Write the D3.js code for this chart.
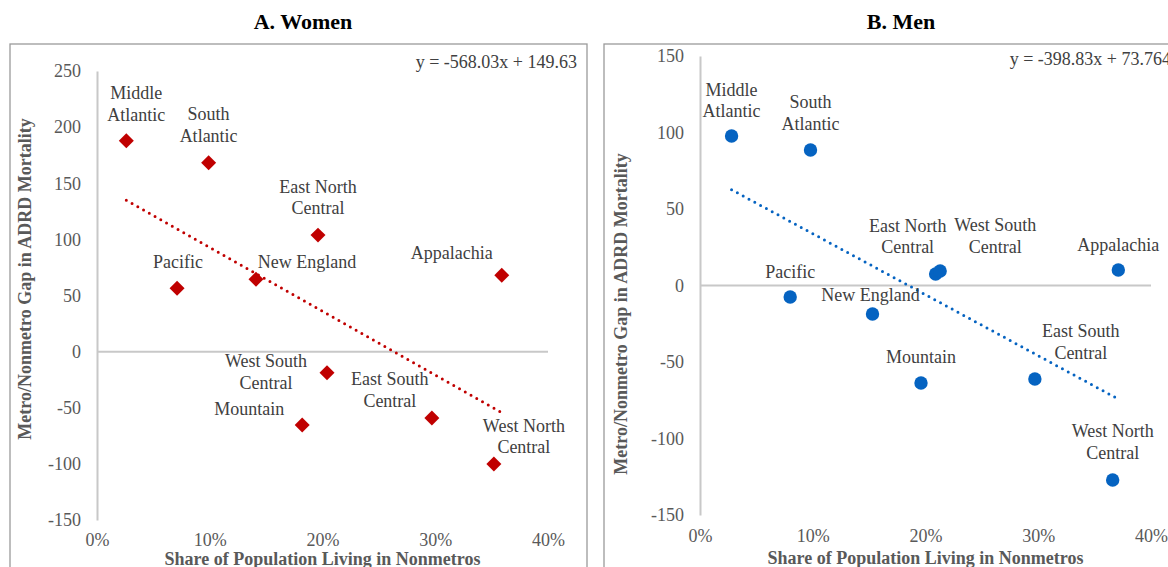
<!DOCTYPE html>
<html>
<head>
<meta charset="utf-8">
<script src="https://cdn.jsdelivr.net/npm/d3@7"></script>
<style>
  html, body { margin: 0; padding: 0; background: #fff; }
  svg { display: block; }
</style>
</head>
<body>
<svg id="chart" width="1168" height="567"></svg>
<script>
// Census divisions (plus Appalachia) compared in both panels
const regions = [
  "Middle Atlantic", "South Atlantic", "East North Central", "Pacific", "New England",
  "Appalachia", "West South Central", "Mountain", "East South Central", "West North Central"
];

// Share of population living in nonmetro counties
const womenShare = [0.026, 0.099, 0.196, 0.071, 0.141, 0.359, 0.204, 0.182, 0.297, 0.352];
const menShare   = [0.028, 0.098, 0.209, 0.080, 0.153, 0.371, 0.213, 0.196, 0.297, 0.366];

// Metro minus nonmetro ADRD mortality gap
const womenGap = [187.9, 168.2, 103.8, 56.4, 64.4, 68.0, -18.8, -65.3, -59.1, -100.2];
const menGap   = [97.7, 88.6, 7.5, -7.5, -18.6, 10.1, 9.5, -63.7, -61.1, -127.1];

// Linear fits [slope, intercept]
const womenFit = [-568.03, 149.63];
const menFit   = [-398.83, 73.764];

// Axis ticks
const xTicks = [0, 0.1, 0.2, 0.3, 0.4];
const womenYTicks = [-150, -100, -50, 0, 50, 100, 150, 200, 250];
const menYTicks = [-150, -100, -50, 0, 50, 100, 150];

const svg = d3.select("#chart");
const SERIF = "'Liberation Serif', 'Times New Roman', serif";
const AXIS_GREY = "#c8c8c8";

function labelLines(name) {
  const m = name.match(/^(.*) (Central|Atlantic)$/);
  return m ? [m[1], m[2]] : [name];
}

function fitLabel(fit) {
  return "y = " + fit[0] + "x + " + fit[1];
}

function drawPanel(cfg) {
  const g = svg.append("g");

  // outer frame
  g.append("rect")
    .attr("x", cfg.frame[0]).attr("y", cfg.frame[1])
    .attr("width", cfg.frame[2]).attr("height", cfg.frame[3])
    .attr("fill", "none").attr("stroke", "#9a9a9a").attr("stroke-width", 1.3);

  // panel title
  g.append("text")
    .attr("x", cfg.titlePos[0]).attr("y", cfg.titlePos[1])
    .attr("text-anchor", "middle")
    .attr("font-family", SERIF).attr("font-weight", "bold").attr("font-size", 22)
    .attr("fill", "#000")
    .text(cfg.title);

  const x = d3.scaleLinear().domain([0, 0.4]).range(cfg.xRange);
  const y = d3.scaleLinear().domain(cfg.yDomain).range(cfg.yRange);

  // vertical axis line at x = 0, no tick marks
  const yAxis = d3.axisLeft(y).tickValues(cfg.yTicks).tickSize(0).tickPadding(16)
    .tickFormat(d => String(d));
  const ya = g.append("g").attr("transform", `translate(${x(0)},0)`).call(yAxis);
  ya.select(".domain").attr("stroke", AXIS_GREY).attr("stroke-width", 2);
  ya.selectAll("text")
    .attr("font-family", SERIF).attr("font-size", 18).attr("fill", "#595959");

  // horizontal reference line at y = 0
  g.append("line")
    .attr("x1", x(0)).attr("x2", x(0.4))
    .attr("y1", y(0)).attr("y2", y(0))
    .attr("stroke", AXIS_GREY).attr("stroke-width", 2);

  // x tick labels sit below the plot area
  const xAxis = d3.axisBottom(x).tickValues(xTicks).tickSize(0).tickPadding(0)
    .tickFormat(d => Math.round(d * 100) + "%");
  const xa = g.append("g").attr("transform", `translate(0,${cfg.xLabelY})`).call(xAxis);
  xa.select(".domain").remove();
  xa.selectAll("text")
    .attr("dy", null).attr("y", 5)
    .attr("font-family", SERIF).attr("font-size", 18).attr("fill", "#595959");

  // axis titles
  g.append("text")
    .attr("x", (cfg.xRange[0] + cfg.xRange[1]) / 2).attr("y", cfg.xTitleY)
    .attr("text-anchor", "middle")
    .attr("font-family", SERIF).attr("font-weight", "bold").attr("font-size", 18)
    .attr("fill", "#595959")
    .text("Share of Population Living in Nonmetros");

  g.append("text")
    .attr("transform", `translate(${cfg.yTitlePos[0]},${cfg.yTitlePos[1]}) rotate(-90)`)
    .attr("text-anchor", "middle")
    .attr("font-family", SERIF).attr("font-weight", "bold").attr("font-size", 18)
    .attr("fill", "#595959")
    .text("Metro/Nonmetro Gap in ADRD Mortality");

  // dotted linear trend over the observed x range
  const xs = d3.extent(cfg.share);
  const fitted = xs.map(v => [v, cfg.fit[0] * v + cfg.fit[1]]);
  g.append("path")
    .datum(fitted)
    .attr("d", d3.line().x(d => x(d[0])).y(d => y(d[1])))
    .attr("fill", "none").attr("stroke", cfg.color)
    .attr("stroke-width", 3).attr("stroke-linecap", "round")
    .attr("stroke-dasharray", "0 6.6");

  // equation of the trend line
  g.append("text")
    .attr("x", cfg.frame[0] + cfg.frame[2] - 10).attr("y", cfg.eqY)
    .attr("text-anchor", "end")
    .attr("font-family", SERIF).attr("font-size", 18).attr("fill", "#404040")
    .text(fitLabel(cfg.fit));

  const pts = regions.map((r, i) => ({ name: r, sx: cfg.share[i], gy: cfg.gap[i], off: cfg.labelOffsets[i] }));

  // markers
  const sym = d3.symbol().type(cfg.symbol).size(cfg.symbolSize);
  g.selectAll("path.marker").data(pts).join("path")
    .attr("class", "marker")
    .attr("d", sym)
    .attr("transform", d => `translate(${x(d.sx)},${y(d.gy)}) rotate(${cfg.symbolRotate})`)
    .attr("fill", cfg.color);

  // region labels; offsets locate the centre of the last line
  const lab = g.selectAll("text.region").data(pts).join("text")
    .attr("class", "region")
    .attr("text-anchor", "middle")
    .attr("font-family", SERIF).attr("font-size", 18).attr("fill", "#404040");
  lab.each(function (d) {
    const lines = labelLines(d.name);
    const cx = x(d.sx) + d.off[0];
    const lastY = y(d.gy) + d.off[1] + 6;
    d3.select(this).selectAll("tspan").data(lines).join("tspan")
      .attr("x", cx)
      .attr("y", (t, k) => lastY - (lines.length - 1 - k) * 21.5)
      .text(t => t);
  });
}

drawPanel({
  title: "A. Women",
  titlePos: [303, 29],
  frame: [10, 44, 577, 540],
  xRange: [97, 548],
  yDomain: [-150, 250],
  yRange: [520, 71],
  yTicks: womenYTicks,
  xLabelY: 541,
  xTitleY: 565,
  yTitlePos: [31, 279],
  eqY: 68,
  share: womenShare,
  gap: womenGap,
  fit: womenFit,
  color: "#c00000",
  symbol: d3.symbolSquare,
  symbolSize: 112,
  symbolRotate: 45,
  labelOffsets: [
    [10, -26], [0, -27], [0, -27], [1, -26], [51, -17],
    [-50, -22], [-61, 10], [-53, -16], [-42, -17], [30, -17]
  ]
});

drawPanel({
  title: "B. Men",
  titlePos: [901, 29],
  frame: [604, 44, 577, 540],
  xRange: [700, 1151],
  yDomain: [-150, 150],
  yRange: [515, 56],
  yTicks: menYTicks,
  xLabelY: 537,
  xTitleY: 564,
  yTitlePos: [627, 314],
  eqY: 65,
  share: menShare,
  gap: menGap,
  fit: menFit,
  color: "#0563c1",
  symbol: d3.symbolCircle,
  symbolSize: 141,
  symbolRotate: 0,
  labelOffsets: [
    [0, -25], [0, -26], [-28, -27], [0, -25], [-2, -19],
    [0, -25], [55, -24], [0, -26], [46, -26], [0, -27]
  ]
});
</script>
</body>
</html>
